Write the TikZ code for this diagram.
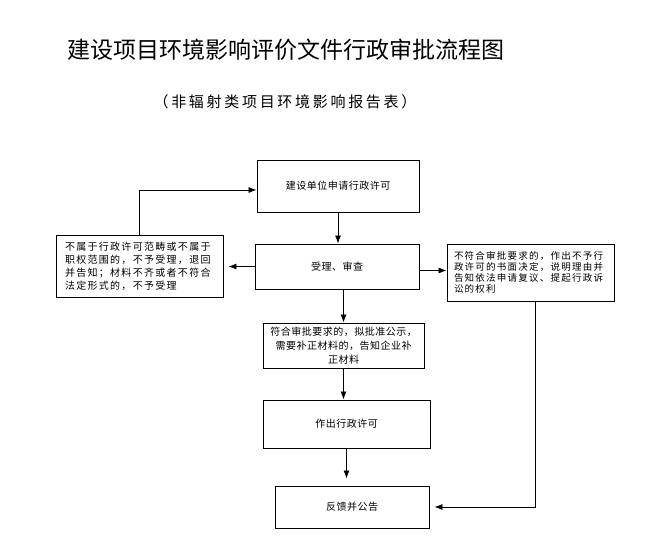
\documentclass[tikz,border=0pt]{standalone}
\usepackage{fontspec}
\setmainfont{Noto Sans CJK SC}
\newfontfamily\subfont[LetterSpace=18]{Noto Sans CJK SC}
\newfontfamily\boxfont[LetterSpace=5]{Noto Sans CJK SC}
\newfontfamily\notefont[LetterSpace=13]{Noto Sans CJK SC}
\usetikzlibrary{calc}
\usetikzlibrary{arrows.meta}
\tikzset{
  flowcell/.style={draw, line width=0.9pt, inner sep=0pt, align=center,
    font=\boxfont\fontsize{10}{14}\selectfont},
  notecell/.style={draw, line width=0.9pt, inner ysep=0pt, align=left},
  flowarrow/.style={-{Latex[length=8pt,width=6pt]}, line width=0.8pt}
}
\newcommand{\flowcell}[6]{\node[flowcell, minimum width=#4pt, minimum height=#5pt] (#1) at ( #2 , #3 ) {#6};}

\begin{document}
\begin{tikzpicture}[x=1pt,y=-1pt]
        \useasboundingbox (0,0) rectangle (667,556);
        % title
        \node[font=\fontsize{23}{23}\selectfont] (title) at (286,50) {建设项目环境影响评价文件行政审批流程图};
        \node[font=\subfont\fontsize{15}{15}\selectfont] (subtitle) at (285,102) {（非辐射类项目环境影响报告表）};

        % main column
        \flowcell{apply}{338}{186}{162}{52}{建设单位申请行政许可}
        \flowcell{review}{337}{266.5}{164}{45}{受理、审查}
        \flowcell{approve}{343.5}{345.5}{161}{45}{符合审批要求的，拟批准公示，\\需要补正材料的，告知企业补\\正材料}
        \flowcell{permit}{346.5}{424}{167}{48}{作出行政许可}
        \flowcell{notice}{352}{507}{154}{42}{反馈并公告}

        % side notes
        \node[notecell, text width=149pt, inner xsep=9pt, minimum height=62pt,
          font=\notefont\fontsize{10}{13}\selectfont] (reject) at (139.5,266)
          {不属于行政许可范畴或不属于\\职权范围的，不予受理，退回\\并告知；材料不齐或者不符合\\法定形式的，不予受理};
        \node[notecell, text width=153pt, inner xsep=7pt, minimum height=57pt,
          font=\notefont\fontsize{9.5}{11}\selectfont] (deny) at (530.5,272.5)
          {不符合审批要求的，作出不予行\\政许可的书面决定，说明理由并\\告知依法申请复议、提起行政诉\\讼的权利};

        % connectors
        \draw[flowarrow] (apply.south) -- (apply.south |- review.north);
        \draw[flowarrow, shorten >=5pt] (review.west) -- (review.west -| reject.east);
        \draw[flowarrow] (reject.north) |- ($(apply.west)+(0,4)$);
        \draw[flowarrow] ($(review.east)+(0,4)$) -- ($(review.east -| deny.west)+(0,4)$);
        \draw[flowarrow] (approve.north |- review.south) -- (approve.north);
        \draw[flowarrow] (approve.south) -- (approve.south |- permit.north);
        \draw[flowarrow, shorten >=7pt] (permit.south) -- (permit.south |- notice.north);
        \draw[flowarrow, shorten >=5pt] ($(deny.south)+(5,0)$) |- (notice.east);
\end{tikzpicture}
\end{document}
